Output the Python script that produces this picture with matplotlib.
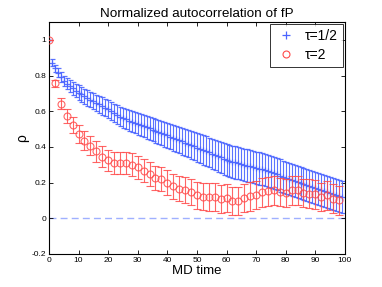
import numpy as np
import matplotlib
matplotlib.use("Agg")
import matplotlib.pyplot as plt
from matplotlib.lines import Line2D

plt.rcParams['font.family'] = ['Liberation Sans', 'DejaVu Sans']

# tau = 1/2 series (every MD time unit)
t_half = list(range(0, 100))
rho_half = [1.000, 0.873, 0.840, 0.815, 0.790, 0.770, 0.755, 0.740, 0.728, 0.716,
            0.705, 0.695, 0.685, 0.675, 0.666, 0.657, 0.648, 0.639, 0.630, 0.620,
            0.611, 0.600, 0.590, 0.580, 0.570, 0.562, 0.555, 0.548, 0.541, 0.535,
            0.528, 0.522, 0.516, 0.510, 0.504, 0.497, 0.490, 0.484, 0.478, 0.471,
            0.465, 0.458, 0.452, 0.445, 0.439, 0.432, 0.425, 0.418, 0.411, 0.404,
            0.397, 0.390, 0.383, 0.376, 0.369, 0.362, 0.355, 0.348, 0.341, 0.334,
            0.328, 0.323, 0.318, 0.313, 0.309, 0.305, 0.300, 0.296, 0.292, 0.288,
            0.283, 0.279, 0.274, 0.269, 0.264, 0.258, 0.252, 0.246, 0.240, 0.234,
            0.228, 0.222, 0.216, 0.210, 0.204, 0.198, 0.192, 0.186, 0.180, 0.174,
            0.168, 0.163, 0.157, 0.152, 0.146, 0.141, 0.135, 0.130, 0.124, 0.118]
err_half = [0.000, 0.018, 0.022, 0.025, 0.028, 0.030, 0.032, 0.034, 0.036, 0.038,
            0.040, 0.041, 0.042, 0.043, 0.044, 0.045, 0.046, 0.047, 0.048, 0.049,
            0.050, 0.051, 0.052, 0.053, 0.054, 0.055, 0.056, 0.057, 0.058, 0.059,
            0.060, 0.061, 0.062, 0.063, 0.064, 0.065, 0.066, 0.067, 0.068, 0.069,
            0.070, 0.071, 0.072, 0.073, 0.074, 0.075, 0.076, 0.077, 0.078, 0.079,
            0.080, 0.081, 0.082, 0.083, 0.084, 0.085, 0.086, 0.087, 0.088, 0.089,
            0.090, 0.090, 0.090, 0.090, 0.090, 0.090, 0.090, 0.090, 0.090, 0.090,
            0.090, 0.090, 0.090, 0.090, 0.090, 0.090, 0.090, 0.090, 0.090, 0.090,
            0.090, 0.090, 0.090, 0.090, 0.090, 0.090, 0.090, 0.090, 0.090, 0.090,
            0.090, 0.090, 0.090, 0.090, 0.090, 0.090, 0.090, 0.090, 0.090, 0.090]

# tau = 2 series (every 2 MD time units)
t_two = list(range(0, 100, 2))
rho_two = [1.000, 0.756, 0.642, 0.572, 0.525, 0.475, 0.435, 0.408, 0.375, 0.345,
           0.325, 0.310, 0.310, 0.310, 0.300, 0.285, 0.268, 0.250, 0.225, 0.220,
           0.200, 0.180, 0.167, 0.157, 0.149, 0.130, 0.120, 0.120, 0.120, 0.110,
           0.113, 0.098, 0.098, 0.115, 0.123, 0.132, 0.145, 0.151, 0.156, 0.147,
           0.143, 0.156, 0.156, 0.143, 0.138, 0.134, 0.119, 0.128, 0.111, 0.100]
err_two = [0.000, 0.020, 0.030, 0.040, 0.045, 0.050, 0.053, 0.055, 0.057, 0.059,
           0.060, 0.061, 0.062, 0.063, 0.064, 0.065, 0.066, 0.067, 0.068, 0.069,
           0.070, 0.071, 0.072, 0.073, 0.074, 0.075, 0.076, 0.077, 0.078, 0.079,
           0.080, 0.080, 0.080, 0.080, 0.080, 0.080, 0.080, 0.080, 0.080, 0.080,
           0.080, 0.080, 0.080, 0.080, 0.080, 0.080, 0.080, 0.080, 0.080, 0.080]

labels = ['τ=1/2', 'τ=2']
x_ticks = [0, 10, 20, 30, 40, 50, 60, 70, 80, 90, 100]
y_ticks = [-0.2, 0, 0.2, 0.4, 0.6, 0.8, 1]
y_ticklabels = ['-0.2', '0', '0.2', '0.4', '0.6', '0.8', '1']

blue = '#4a64ff'
red = '#ff4a4a'

fig = plt.figure(figsize=(3.82, 2.87), dpi=100)
ax = fig.add_axes([0.128, 0.115, 0.775, 0.808])

ax.axhline(0, color='#9fb0ff', linestyle=(0, (5, 3)), linewidth=1.0, zorder=1)

ax.errorbar(t_half, rho_half, yerr=err_half, fmt='+', color=blue, ecolor=blue,
            markersize=5, markeredgewidth=0.9, elinewidth=0.8, capsize=1.8,
            capthick=0.9, alpha=0.9, zorder=2)
ax.errorbar(t_two, rho_two, yerr=err_two, fmt='o', color=red, ecolor=red,
            markerfacecolor='none', markersize=5, markeredgewidth=0.8,
            elinewidth=0.8, capsize=3.0, capthick=0.8, alpha=0.85, zorder=3)

ax.set_xlim(0, 100)
ax.set_ylim(-0.2, 1.1)
ax.set_xticks(x_ticks)
ax.set_xticklabels([str(v) for v in x_ticks])
ax.set_yticks(y_ticks)
ax.set_yticklabels(y_ticklabels)
ax.tick_params(direction='in', top=True, right=True, labelsize=6, length=3,
               width=0.6, pad=2)
for s in ax.spines.values():
    s.set_linewidth(0.8)

ax.set_title('Normalized autocorrelation of fP', fontsize=9.7, pad=4)
ax.set_xlabel('MD time', fontsize=9.5, labelpad=1)
ax.set_ylabel('ρ', fontsize=10, labelpad=2)

handles = [Line2D([], [], linestyle='none', marker='+', color=blue,
                  markersize=6, markeredgewidth=0.9),
           Line2D([], [], linestyle='none', marker='o', color=red,
                  markerfacecolor='none', markersize=5, markeredgewidth=0.8)]
leg = ax.legend(handles, labels, loc='upper right', fontsize=10, frameon=True,
                fancybox=False, edgecolor='black', handlelength=1.6,
                handletextpad=0.6, borderpad=0.35, labelspacing=0.35,
                borderaxespad=0.15)
leg.get_frame().set_linewidth(0.7)

fig.savefig('out.png', dpi=100)
